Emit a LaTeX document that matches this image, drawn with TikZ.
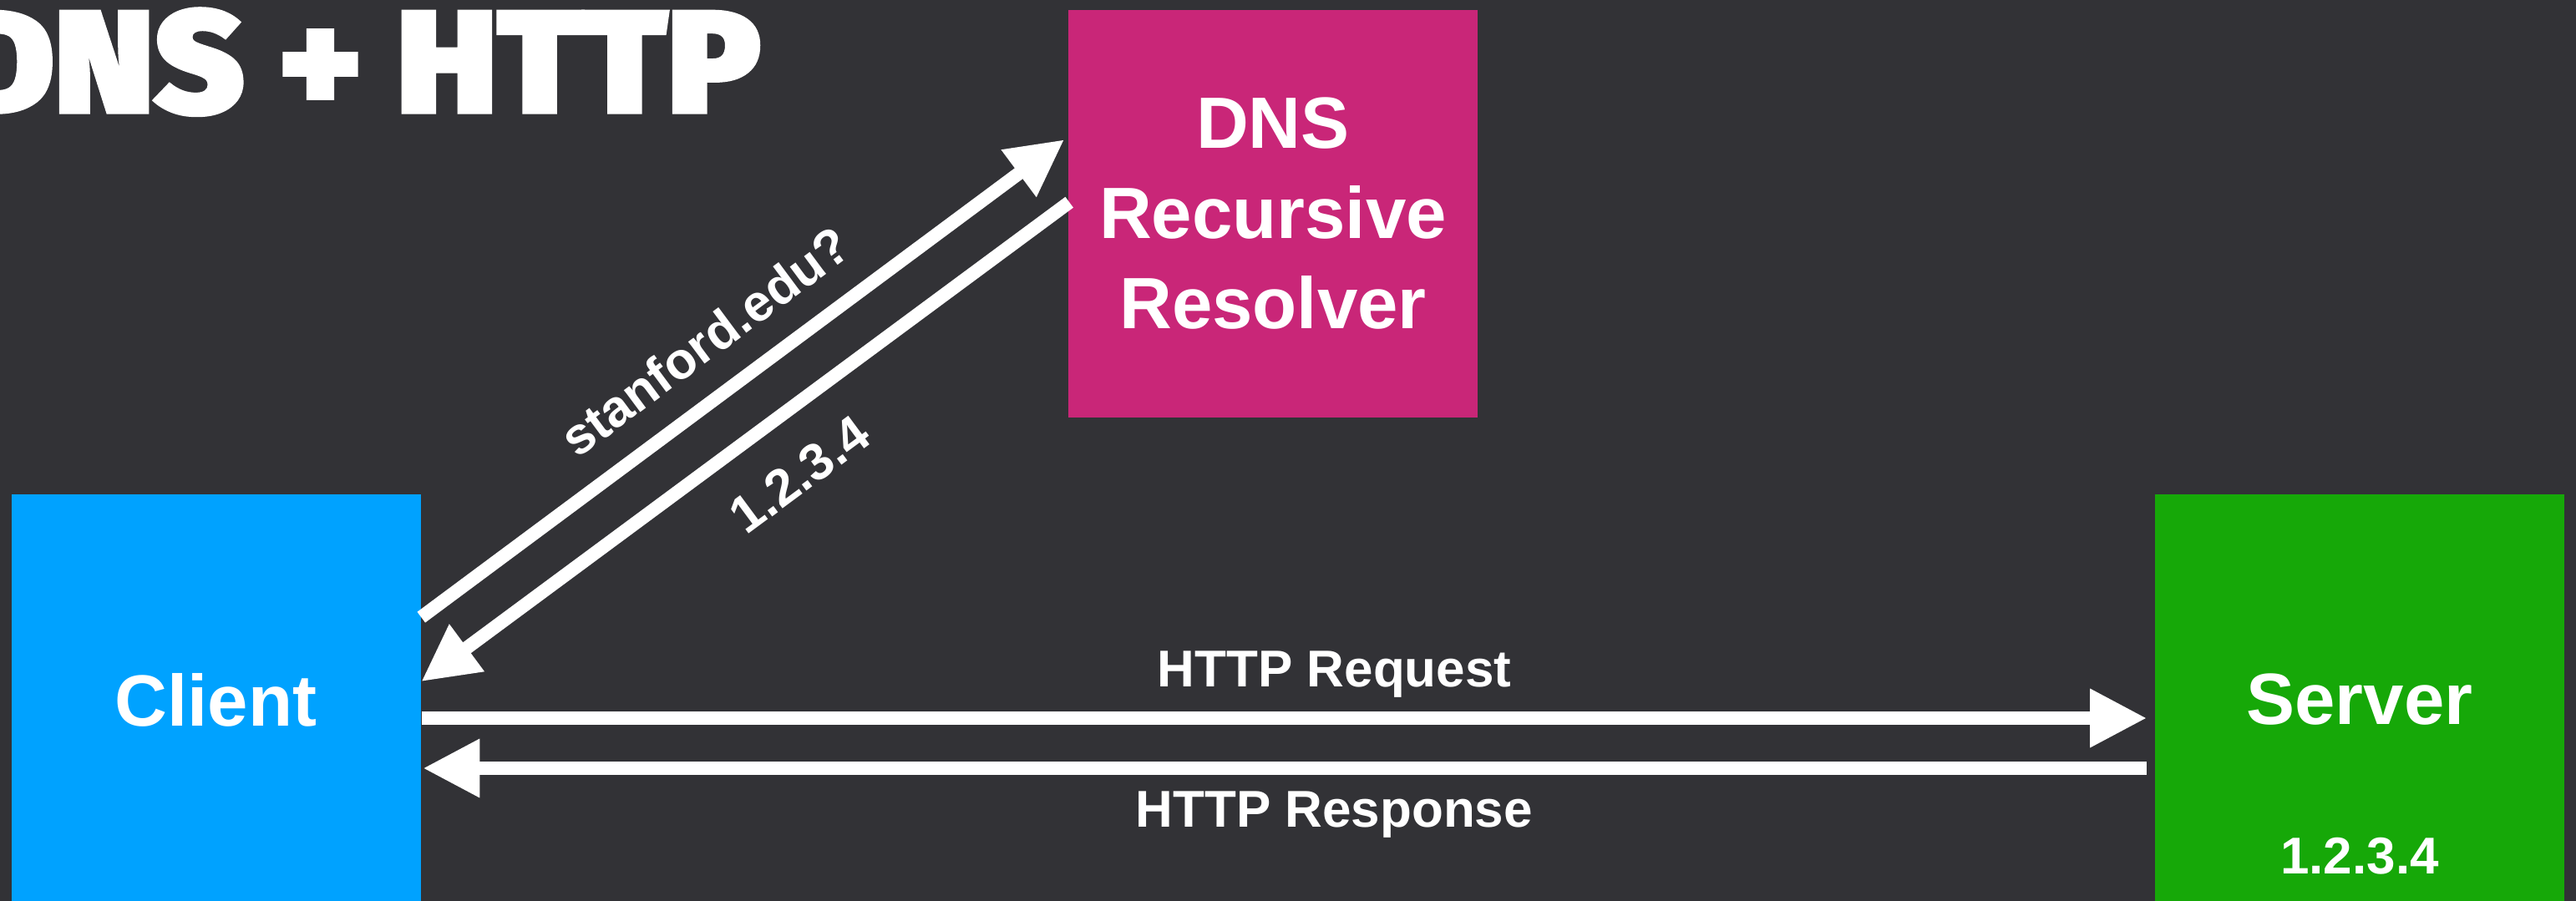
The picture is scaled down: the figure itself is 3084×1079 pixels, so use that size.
\documentclass[tikz,border=0pt]{standalone}
\usepackage{fontspec}
\setmainfont{Liberation Sans}
\newfontfamily\titlefont[FakeBold=2]{Fira Sans Black}
\usetikzlibrary{arrows.meta,calc}

\definecolor{bg}{RGB}{50,50,54}
\definecolor{clientblue}{RGB}{0,162,255}
\definecolor{dnspink}{RGB}{201,38,120}
\definecolor{servergreen}{RGB}{22,168,8}

\begin{document}
\begin{tikzpicture}[x=0.25pt,y=-0.25pt,
  box/.style={draw=none, inner sep=0pt, minimum width=122.5pt, minimum height=123pt,
              text=white, align=center, font=\bfseries\fontsize{21.75pt}{27pt}\selectfont},
  lbl/.style={text=white, inner sep=0pt, font=\bfseries\fontsize{15.5pt}{18pt}\selectfont},
  flow/.style={draw=white, line width=4pt, -{Triangle[length=17pt,width=16.5pt]}},
  flowback/.style={draw=white, line width=4pt, {Triangle[length=17pt,width=16.5pt]}-}]

% canvas
\fill[bg] (0,0) rectangle (3084,1079);
\useasboundingbox (0,0) rectangle (3084,1079);
\clip (0,0) rectangle (3084,1079);

% heading
\node[anchor=base east, inner sep=0pt, text=white] (title) at (912,135)
  {\resizebox{241.75pt}{31.25pt}{\titlefont DNS + HTTP}};

% hosts
\node[box, fill=clientblue] (client) at (258.5,838) {Client};
\node[box, fill=dnspink, minimum height=122pt] (dns) at (1524,256) {DNS\\Recursive\\Resolver};
\node[box, fill=servergreen] (server) at (2825,838) {Server};
\node[lbl] (serverip) at ($(server.center)+(0,187)$) {1.2.3.4};

% connector end points on the box borders
\coordinate (qstart) at ($(client.north east)+(0,148)$);
\coordinate (qend)   at ($(dns.north west)+(-4,156)$);
\coordinate (aend)   at ($(client.north east)+(0,225)$);
\coordinate (astart) at ($(dns.north west)+(2,231)$);
\coordinate (reqstart) at ($(client.east)+(1,22)$);
\coordinate (reqend)   at ($(server.west)+(-9,22)$);
\coordinate (resstart) at ($(server.west)+(-9,82)$);
\coordinate (resend)   at ($(client.east)+(2,82)$);

% DNS lookup
\draw[flow] (qstart) -- node[lbl, sloped, pos=0.49, anchor=south, inner ysep=8pt] {stanford.edu?} (qend);
\draw[flowback] (aend) -- node[lbl, sloped, pos=0.53, anchor=north, inner ysep=10pt] {1.2.3.4} (astart);

% HTTP exchange
\draw[flow] (reqstart) -- node[lbl, pos=0.529, anchor=base, yshift=9.5pt] {HTTP Request} (reqend);
\draw[flowback] (resend) -- node[lbl, pos=0.5286, anchor=base, yshift=-17.5pt] {HTTP Response} (resstart);
\end{tikzpicture}
\end{document}
